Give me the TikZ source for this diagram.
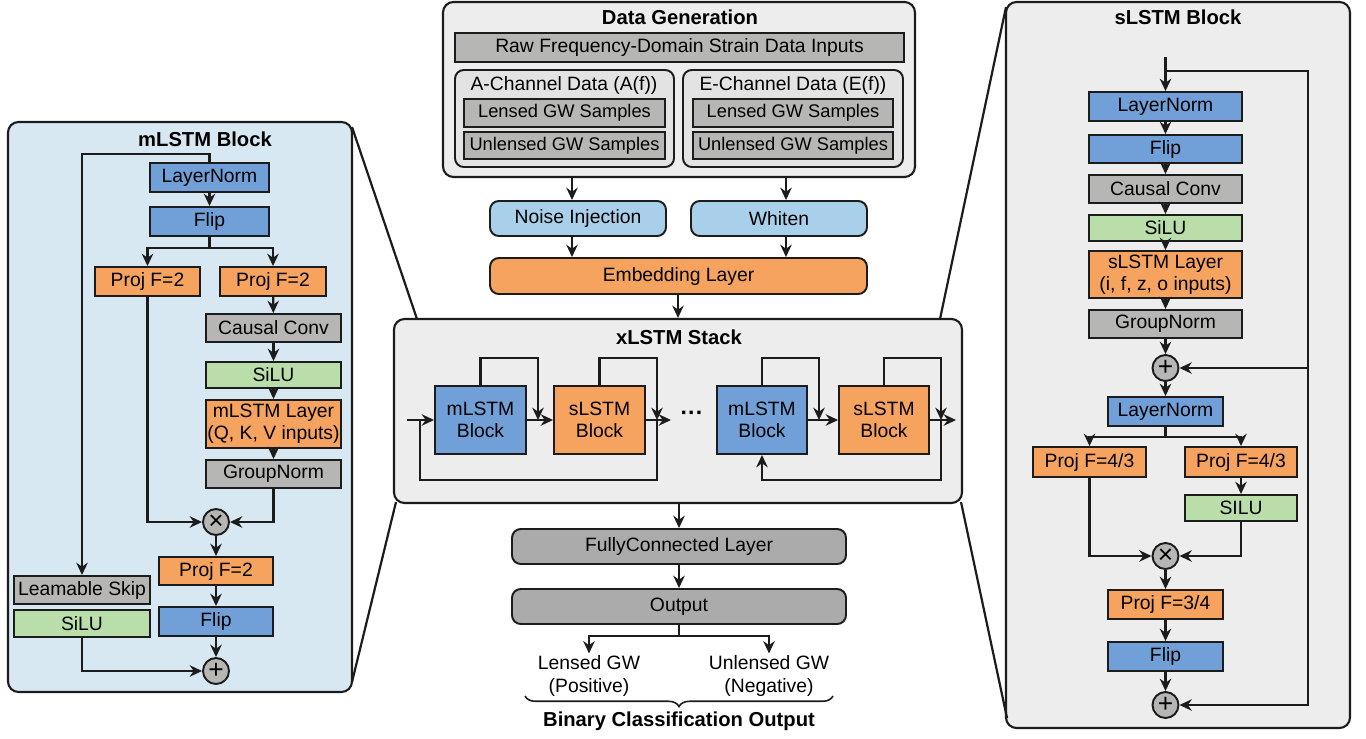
\documentclass[tikz,border=0pt]{standalone}
\usepackage{fontspec}
\setmainfont{Liberation Sans}
\usetikzlibrary{arrows.meta,decorations.pathreplacing}

\definecolor{panelblue}{HTML}{D8E8F2}
\definecolor{panelgray}{HTML}{EDEDED}
\definecolor{boxblue}{HTML}{70A0D7}
\definecolor{boxorange}{HTML}{F5A35F}
\definecolor{boxgreen}{HTML}{B9DEAA}
\definecolor{boxgray}{HTML}{B6B6B5}
\definecolor{darkgray}{HTML}{ABABAB}
\definecolor{softblue}{HTML}{A9D0EA}
\definecolor{chgray}{HTML}{E3E3E3}
\definecolor{ink}{HTML}{1C1C1C}

% box placed by its corner coordinates (x1,y1)-(x2,y2)
\newcommand\pbox[7]{\node[#2, minimum width={(#5-#3)*0.02cm}, minimum height={(#6-#4)*0.02cm}] (#1) at ({(#3+#5)/2},{(#4+#6)/2}) {#7};}

\tikzset{
  panel/.style={draw=ink, line width=1.2pt, rounded corners=6pt, inner sep=0pt},
  blk/.style={draw=ink, line width=1.1pt, inner sep=0pt, align=center,
    font=\fontsize{11}{12.8}\selectfont},
  bluebox/.style={blk, fill=boxblue},
  orangebox/.style={blk, fill=boxorange},
  greenbox/.style={blk, fill=boxgreen},
  graybox/.style={blk, fill=boxgray},
  sampbox/.style={blk, fill=boxgray, font=\fontsize{10.4}{12}\selectfont},
  chanbox/.style={blk, fill=chgray, rounded corners=5pt},
  softbox/.style={blk, fill=softblue, rounded corners=5pt},
  rorange/.style={blk, fill=boxorange, rounded corners=5pt},
  rgray/.style={blk, fill=darkgray, rounded corners=5pt},
  title/.style={font=\bfseries\fontsize{11.5}{13}\selectfont, inner sep=0pt},
  txt/.style={font=\fontsize{11}{13}\selectfont, inner sep=1pt, align=center},
  op/.style={circle, draw=ink, line width=1.1pt, fill=boxgray, minimum size=0.52cm,
    inner sep=0pt, font=\fontsize{15}{15}\selectfont},
  conn/.style={draw=ink, line width=1.25pt},
  arr/.style={conn, -{Stealth[length=7pt,width=6.5pt]}},
}

\begin{document}
\begin{tikzpicture}[x=0.02cm, y=-0.02cm]
\useasboundingbox (0,0) rectangle (1366,738);
\fill[white] (0,0) rectangle (1366,738);

% ---------------- panels ----------------
\pbox{mpanel}{panel, fill=panelblue}{8}{122}{352}{692}{}
\pbox{dgen}{panel, fill=panelgray}{443}{2}{915}{177}{}
\pbox{stack}{panel, fill=panelgray}{394}{319}{962}{503}{}
\pbox{spanel}{panel, fill=panelgray}{1006}{2}{1350}{728}{}

% zoom lines from the detailed blocks to the stack
\coordinate (zA1) at (352,127); \coordinate (zA2) at (417,319);
\coordinate (zB1) at (352,682); \coordinate (zB2) at (396,502);
\coordinate (zC1) at (1006,7);  \coordinate (zC2) at (940,319);
\coordinate (zD1) at (961,502); \coordinate (zD2) at (1007,718);
\draw[conn] (zA1) -- (zA2);
\draw[conn] (zB1) -- (zB2);
\draw[conn] (zC1) -- (zC2);
\draw[conn] (zD1) -- (zD2);

% ---------------- mLSTM block ----------------
\node[title] (mtitle) at (205,139) {mLSTM Block};
\pbox{mln}{bluebox}{150}{163}{269}{192}{LayerNorm}
\pbox{mflip}{bluebox}{150}{207}{269}{236}{Flip}
\pbox{mprojl}{orangebox}{95}{267}{200}{296}{Proj F=2}
\pbox{mprojr}{orangebox}{220}{267}{326}{296}{Proj F=2}
\pbox{mconv}{graybox}{206}{314}{341}{342}{Causal Conv}
\pbox{msilu}{greenbox}{206}{362}{341}{388}{SiLU}
\pbox{mlayer}{orangebox}{206}{400}{341}{448}{mLSTM Layer\\(Q, K, V inputs)}
\pbox{mgn}{graybox}{206}{460}{341}{488}{GroupNorm}
\node[op] (mmul) at (216,522) {×};
\pbox{mproj}{orangebox}{159}{557}{273}{585}{Proj F=2}
\pbox{mflipb}{bluebox}{159}{607}{273}{636}{Flip}
\node[op] (madd) at (216,671) {+};
\pbox{mskip}{graybox}{14}{576}{150}{604}{Leamable Skip}
\pbox{mskipact}{greenbox}{14}{610}{150}{637}{SiLU}

\coordinate (msplit) at (209.5,248);
\coordinate (mtop) at (209.5,154);
\draw[arr] (mln) -- (mflip);
\draw[conn] (mflip.south) -- (msplit);
\draw[arr] (msplit) -| (mprojl.north);
\draw[arr] (msplit) -| (mprojr.north);
\draw[arr] (mprojr) -- (mconv);
\draw[arr] (mconv) -- (msilu);
\draw[arr] (msilu) -- (mlayer);
\draw[arr] (mlayer) -- (mgn);
\draw[arr] (mprojl.south) |- (mmul.west);
\draw[arr] (mgn.south) |- (mmul.east);
\draw[arr] (mmul) -- (mproj);
\draw[arr] (mproj) -- (mflipb);
\draw[arr] (mflipb) -- (madd);
\draw[arr] (mln.north) -- (mtop) -| (mskip.north);
\draw[arr] (mskipact.south) |- (madd.west);

% ---------------- data generation ----------------
\node[title] (dtitle) at (680,17) {Data Generation};
\pbox{raw}{graybox}{455}{33}{904}{62}{Raw Frequency-Domain Strain Data Inputs}
\pbox{ach}{chanbox}{455}{70}{674}{167}{}
\node[txt] (achl) at (564,85) {A-Channel Data (A(f))};
\pbox{alens}{sampbox}{464}{99}{665}{127}{Lensed GW Samples}
\pbox{aunl}{sampbox}{464}{132}{665}{159}{Unlensed GW Samples}
\pbox{ech}{chanbox}{683}{70}{903}{167}{}
\node[txt] (echl) at (793,85) {E-Channel Data (E(f))};
\pbox{elens}{sampbox}{693}{99}{893}{127}{Lensed GW Samples}
\pbox{eunl}{sampbox}{693}{132}{893}{159}{Unlensed GW Samples}

\pbox{noise}{softbox}{490}{201}{666}{236}{Noise Injection}
\pbox{whiten}{softbox}{691}{201}{867}{236}{Whiten}
\pbox{embed}{rorange}{490}{258}{867}{294}{Embedding Layer}

\coordinate (colA) at (572,0);
\coordinate (colE) at (786,0);
\draw[arr] (dgen.south -| colA) -- (noise.north -| colA);
\draw[arr] (dgen.south -| colE) -- (whiten.north -| colE);
\draw[arr] (noise.south -| colA) -- (embed.north -| colA);
\draw[arr] (whiten.south -| colE) -- (embed.north -| colE);
\draw[arr] (embed.south -| stack.north) -- (stack.north);

% ---------------- xLSTM stack ----------------
\node[title] (xtitle) at (679,337) {xLSTM Stack};
\pbox{m1}{bluebox}{435}{386}{526}{454}{mLSTM\\Block}
\pbox{s1}{orangebox}{554}{386}{645}{454}{sLSTM\\Block}
\pbox{m2}{bluebox}{717}{386}{807}{454}{mLSTM\\Block}
\pbox{s2}{orangebox}{839}{386}{929}{454}{sLSTM\\Block}
\node[font=\bfseries\fontsize{13}{13}\selectfont, inner sep=0pt] (dots) at (692,416) {···};

\coordinate (xin) at (407,420);
\coordinate (lp) at (420,420);
\coordinate (m1j) at (538,420);
\coordinate (s1j) at (657,420);
\coordinate (o1) at (671,420);
\coordinate (m2j) at (819,420);
\coordinate (s2j) at (941,420);
\coordinate (o2) at (956,420);

\draw[arr] (xin) -- (m1);
\draw[arr] (m1) -- (s1);
\draw[arr] (s1.east |- o1) -- (o1);
\draw[arr] (m2) -- (s2);
\draw[arr] (s2.east |- o2) -- (o2);
\draw[arr] (m1.north) -- ++(0,-27) -| (m1j);
\draw[arr] (s1.north) -- ++(0,-27) -| (s1j);
\draw[arr] (m2.north) -- ++(0,-27) -| (m2j);
\draw[arr] (s2.north) -- ++(0,-27) -| (s2j);
\draw[conn] (lp) -- ++(0,60) -| (s1j);
\draw[arr] (s2j) -- ++(0,60) -| (m2.south);

% ---------------- classifier head ----------------
\pbox{fc}{rgray}{512}{529}{846}{564}{FullyConnected Layer}
\pbox{out}{rgray}{512}{589}{846}{624}{Output}
\draw[arr] (stack.south -| fc.north) -- (fc.north);
\draw[arr] (fc) -- (out);
\node[txt] (lens) at (589,676) {Lensed GW\\(Positive)};
\node[txt] (unl) at (769,676) {Unlensed GW\\(Negative)};
\coordinate (osplit) at (679,636);
\draw[conn] (out.south) -- (osplit);
\draw[arr] (osplit) -| (lens.north);
\draw[arr] (osplit) -| (unl.north);
\coordinate (brL) at (525,696);
\coordinate (brR) at (833,696);
\draw[draw=ink, line width=0.9pt, decorate, decoration={brace, mirror, amplitude=6pt}] (brL) -- (brR);
\node[title] (btitle) at (679,721) {Binary Classification Output};

% ---------------- sLSTM block ----------------
\node[title] (stitle) at (1178,17) {sLSTM Block};
\pbox{sln}{bluebox}{1089}{92}{1242}{121}{LayerNorm}
\pbox{sflip}{bluebox}{1089}{135}{1242}{163}{Flip}
\pbox{sconv}{graybox}{1089}{175}{1242}{203}{Causal Conv}
\pbox{ssilu}{greenbox}{1089}{215}{1242}{241}{SiLU}
\pbox{slayer}{orangebox}{1089}{251}{1242}{298}{sLSTM Layer\\(i, f, z, o inputs)}
\pbox{sgn}{graybox}{1089}{310}{1242}{338}{GroupNorm}
\node[op] (sadd1) at (1165.5,368) {+};
\pbox{sln2}{bluebox}{1108}{397}{1223}{426}{LayerNorm}
\pbox{sprojl}{orangebox}{1033}{447}{1146}{477}{Proj F=4/3}
\pbox{sprojr}{orangebox}{1185}{447}{1297}{477}{Proj F=4/3}
\pbox{ssilu2}{greenbox}{1185}{495}{1297}{521}{SILU}
\node[op] (smul) at (1165.5,556) {×};
\pbox{sproj}{orangebox}{1108}{590}{1223}{619}{Proj F=3/4}
\pbox{sflip2}{bluebox}{1108}{642}{1223}{671}{Flip}
\node[op] (sadd2) at (1165.5,705) {+};

\coordinate (sin) at (1165.5,57);
\coordinate (sbr) at (1165.5,71);
\coordinate (sright) at (1308,71);
\coordinate (ssplit) at (1165.5,437);
\draw[arr] (sin) -- (sln.north);
\draw[conn] (sbr) -- (sright) -- (sright |- sadd1);
\draw[arr] (sright |- sadd1) -- (sadd1.east);
\draw[arr] (sright |- sadd1) |- (sadd2.east);
\draw[arr] (sln) -- (sflip);
\draw[arr] (sflip) -- (sconv);
\draw[arr] (sconv) -- (ssilu);
\draw[arr] (ssilu) -- (slayer);
\draw[arr] (slayer) -- (sgn);
\draw[arr] (sgn) -- (sadd1);
\draw[arr] (sadd1) -- (sln2);
\draw[conn] (sln2.south) -- (ssplit);
\draw[arr] (ssplit) -| (sprojl.north);
\draw[arr] (ssplit) -| (sprojr.north);
\draw[arr] (sprojr) -- (ssilu2);
\draw[arr] (sprojl.south) |- (smul.west);
\draw[arr] (ssilu2.south) |- (smul.east);
\draw[arr] (smul) -- (sproj);
\draw[arr] (sproj) -- (sflip2);
\draw[arr] (sflip2) -- (sadd2);
\end{tikzpicture}
\end{document}
